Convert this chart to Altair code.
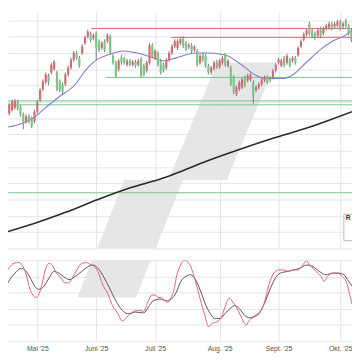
import altair as alt
import pandas as pd

# ---- price candles (trading-day index d, d=0 is 2 May 2025) ----
days = list(range(-13, 113))
opens = [137,135,132,138,142,144,150,145,137,130,135,133,130,
         140,152,163,170,177,180,184,180,171,168,168,178,185,193,200,195,200,210,217,220,215,
         220,212,205,212,212,217,197,190,183,196,194,188,192,188,191,188,194,187,182,190,208,
         195,200,192,188,185,193,200,207,205,210,215,210,206,208,203,202,190,198,197,187,180,
         184,191,186,190,198,187,185,175,158,163,165,175,172,173,170,162,165,168,172,175,174,
         175,182,190,187,195,190,193,192,195,198,207,214,219,230,223,220,218,225,220,225,226,
         230,227,228,232,227,233,228,223]
closes = [129,127,138,147,150,151,143,137,128,135,130,125,140,
          150,162,171,178,170,188,191,163,162,160,178,185,193,200,195,187,207,216,222,213,218,
          205,203,210,203,218,200,190,177,192,190,190,192,188,191,187,192,177,178,190,208,197,
          202,188,180,182,193,200,207,212,212,214,207,204,208,202,206,188,197,193,187,180,185,
          190,186,192,195,188,192,168,160,165,170,173,167,177,178,155,165,168,173,175,170,172,
          182,188,193,192,187,197,187,195,190,205,212,219,223,220,217,215,223,217,225,228,230,
          225,230,232,225,230,228,220,213]
highs = [139,137,140,149,152,153,152,147,139,137,137,135,142,
         152,164,173,180,179,190,193,182,173,170,180,187,195,202,202,197,209,218,224,222,220,
         222,214,212,214,220,219,199,192,194,198,196,194,194,193,193,194,196,189,192,210,210,
         204,202,194,190,195,202,209,214,214,216,217,212,210,210,208,204,199,200,199,189,187,
         192,193,194,197,200,194,187,177,167,172,175,177,179,180,172,167,170,175,177,177,176,
         184,190,195,194,197,199,195,197,197,207,214,221,225,232,225,222,225,227,227,230,232,
         232,232,234,234,232,235,230,225]
lows = [127,125,130,136,140,142,141,135,122,128,128,123,128,
        138,150,161,168,167,178,182,161,160,158,166,176,183,191,193,185,198,208,215,211,213,
        193,201,203,201,210,198,188,175,181,188,188,186,186,186,185,186,175,176,180,188,195,
        193,186,178,180,183,191,198,205,203,208,205,202,204,200,201,186,188,191,185,178,178,
        182,184,184,188,186,185,166,158,156,161,163,165,170,171,148,160,163,166,170,168,170,
        173,180,188,185,185,188,185,190,188,196,205,212,217,218,215,213,216,215,218,223,224,
        223,225,226,223,225,226,218,211]

# ---- moving averages (day, level) ----
ma_fast_d = [-13.2,-1.7,4.2,7.7,13.6,17.1,20.6,25.1,31,35.5,41.5,44.9,49.5,56.4,61,66.9,
             72.8,77.4,81.9,87.8,91.3,95.8,100.7,105.2,109.8,112.2]
ma_fast_v = [123,133,147,155,168,182,192,198,202,200,195,192,195,200,200,198,
             188,178,174,174,178,190,203,212,218,223]
ma_slow_d = [-13.2,-1.7,10.1,21.6,33.1,44.9,49.5,61,72.8,84.3,95.8,102.8,112.2]
ma_slow_v = [15,25,37,50,62,72,77,90,102,113,123,130,140]

# ---- horizontal support / resistance lines ----
lvl_value = [225, 216, 175, 151, 147, 57]
lvl_start = [19.2, 47.7, 24.4, -13, -13, -13]
lvl_kind = ["res", "res", "sup", "sup", "sup", "sup"]

# ---- stochastic oscillator ----
k_d = [-13.2,-12.1,-10.9,-9.2,-7.4,-6.3,-5.1,-3.9,-2.8,-1.6,-0.5,0.7,1.9,3.0,4.2,5.3,6.5,8.2,
       10.0,11.2,12.3,14.1,15.8,17.5,19.3,20.4,21.6,23.3,25.1,26.8,28.6,30.3,31.5,32.6,34.4,
       36.1,37.9,39.6,40.8,42.0,43.1,44.3,45.4,46.6,47.7,48.9,49.5,50.6,52.4,54.1,55.9,57.6,
       59.4,61.1,62.3,64.0,65.7,66.9,68.4,69.8,71.0,72.7,74.5,75.6,77.4,79.1,80.8,82.6,84.3,
       86.1,87.8,89.6,91.3,93.0,94.2,96.0,97.1,98.3,100.0,101.2,102.3,103.5,105.2,107.0,108.7,
       110.5,111.6,112.2]
k_v = [74,77,86,94,97,97,92,82,66,57,54,59,74,90,96,94,86,79,72,72,77,88,96,97,94,92,86,70,
       59,44,35,25,28,32,37,38,37,50,57,57,54,54,50,48,54,66,78,90,100,96,80,58,36,18,22,24,
       30,42,53,48,42,30,20,26,30,34,46,70,84,88,88,86,88,88,92,99,94,90,84,80,74,80,84,84,
       80,70,54,46]
dd_d = [-13.2,-11.5,-9.8,-7.4,-5.7,-3.9,-2.2,-0.5,0.7,2.4,4.2,5.9,7.7,10.0,11.7,13.5,15.8,
        18.1,19.9,21.6,23.9,25.7,28.0,30.3,32.6,35.0,37.9,39.6,41.3,43.7,46.0,47.7,49.5,51.2,
        53.0,54.7,56.4,58.2,59.9,61.7,63.4,65.2,66.9,68.6,70.4,72.1,73.9,75.6,77.9,79.7,81.4,
        83.2,84.9,86.6,89.0,91.3,93.6,96.0,98.3,100.6,102.9,105.2,107.5,109.3,111.0,112.2]
dd_v = [60,66,76,86,90,86,76,66,64,68,78,86,84,78,76,80,86,92,94,90,78,66,50,38,34,36,35,
        42,50,52,50,52,60,74,80,82,76,62,46,34,28,28,34,40,44,40,32,29,32,38,50,66,78,84,86,
        88,90,94,92,86,82,84,84,82,74,68]

# ---- month axis ----
month_days = [0, 21, 42, 65, 86, 108]
month_labels = ["Mai '25", "Juni '25", "Juli '25", "Aug. '25", "Sept. '25", "Okt. '25"]

# ---- watermark logo outline (level, left day, right day) ----
wm_main_p = [190, 70.01, 70, 0]
wm_main_l = [64.1, 46.7, 31.0, 21.3]
wm_main_r = [85.0, 67.6, 51.9, 42.2]
wm_sto_s = [100, 54]
wm_sto_l = [19.5, 14.3]
wm_sto_r = [40.4, 35.2]

X_DOM = [-10.45, 112.2]
P_DOM = [0, 242]
grid_p = [k * 50 / 3 for k in range(0, 15)]

GREEN = "#2fae4e"
RED = "#e3262f"

candles = pd.DataFrame({"d": days, "o": opens, "c": closes, "h": highs, "l": lows})
candles["up"] = candles["c"] >= candles["o"]

label_expr = " : ".join(
    f'datum.value == {d} ? "{lab}"' for d, lab in zip(month_days, month_labels)
) + ' : ""'

x_axis_main = alt.Axis(values=month_days, grid=True, labels=False, ticks=False,
                       domain=False, title=None)
x_axis_sto = alt.Axis(values=month_days, grid=True, labels=True, ticks=False,
                      domain=False, title=None, labelExpr=label_expr, labelPadding=3,
                      labelFontSize=7, labelColor="#555", labelFont="Liberation Sans")
y_axis_main = alt.Axis(values=grid_p, grid=True, labels=False, ticks=False,
                       domain=False, title=None)
y_axis_sto = alt.Axis(values=[0, 20, 40, 60, 80, 100], grid=True, labels=False, ticks=False,
                      domain=False, title=None)
xs = alt.Scale(domain=X_DOM, nice=False, zero=False)
ps = alt.Scale(domain=P_DOM, nice=False, zero=False)
ss = alt.Scale(domain=[0, 100], nice=False, zero=False)


def X(f, axis):
    return alt.X(f, type="quantitative", scale=xs, axis=axis)


def PY(f):
    return alt.Y(f, type="quantitative", scale=ps, axis=y_axis_main)


WM_COLOR = "#e2e2e2"

wm_main = pd.DataFrame({"p": wm_main_p, "l": wm_main_l, "r": wm_main_r})
wm_layer = alt.Chart(wm_main).mark_area(orient="horizontal", color=WM_COLOR,
                                         opacity=0.85, clip=True).encode(
    y=PY("p"), x=X("l", x_axis_main), x2="r")

lv = pd.DataFrame({"v": lvl_value, "s": lvl_start, "kind": lvl_kind, "e": [113] * 6})
lv_layer = alt.Chart(lv).mark_rule(strokeWidth=1, clip=True).encode(
    y=PY("v"), x=X("s", x_axis_main), x2="e",
    color=alt.Color("kind:N", scale=alt.Scale(domain=["res", "sup"],
                                               range=["#d46a72", "#7cc489"]), legend=None))

maf = pd.DataFrame({"d": ma_fast_d, "v": ma_fast_v})
maf_layer = alt.Chart(maf).mark_line(color="#8080cc", strokeWidth=1.1, clip=True,
                                      interpolate="monotone").encode(
    x=X("d", x_axis_main), y=PY("v"))
mas = pd.DataFrame({"d": ma_slow_d, "v": ma_slow_v})
mas_layer = alt.Chart(mas).mark_line(color="#2a2a2a", strokeWidth=1.6, clip=True,
                                      interpolate="monotone").encode(
    x=X("d", x_axis_main), y=PY("v"))

wick_layer = alt.Chart(candles).mark_rule(color="#7a7a7a", strokeWidth=1, clip=True).encode(
    x=X("d", x_axis_main), y=PY("l"), y2="h")
body_layer = alt.Chart(candles).mark_rule(strokeWidth=2.2, clip=True).encode(
    x=X("d", x_axis_main), y=PY("o"), y2="c",
    color=alt.Color("up:N", scale=alt.Scale(domain=[True, False], range=[GREEN, RED]),
                    legend=None))

leg = pd.DataFrame({"x": [109.3], "x2": [116], "y": [35], "y2": [8], "t": ["R"]})
leg_box = alt.Chart(leg).mark_rect(fill="white", stroke="#bbbbbb", strokeWidth=1,
                                   clip=True).encode(
    x=X("x", x_axis_main), x2="x2", y=PY("y"), y2="y2")
leg_txt = alt.Chart(leg).mark_text(fontSize=7, fontWeight="bold", color="#333", align="left",
                                   dx=2, dy=4, font="Liberation Sans", clip=True).encode(
    x=X("x", x_axis_main), y=PY("y"), text="t:N")

main = alt.layer(wm_layer, lv_layer, mas_layer, maf_layer, wick_layer, body_layer,
                 leg_box, leg_txt).properties(width=352, height=242)

wm_s = pd.DataFrame({"s": wm_sto_s, "l": wm_sto_l, "r": wm_sto_r})


def SY(f):
    return alt.Y(f, type="quantitative", scale=ss, axis=y_axis_sto)


wm_s_layer = alt.Chart(wm_s).mark_area(orient="horizontal", color=WM_COLOR, opacity=0.85,
                                        clip=True).encode(
    y=SY("s"), x=X("l", x_axis_sto), x2="r")
kdf = pd.DataFrame({"d": k_d, "v": k_v})
ddf = pd.DataFrame({"d": dd_d, "v": dd_v})
k_layer = alt.Chart(kdf).mark_line(color="#e0607e", strokeWidth=1, clip=True,
                                    interpolate="monotone").encode(
    x=X("d", x_axis_sto), y=SY("v"))
d_layer = alt.Chart(ddf).mark_line(color="#555555", strokeWidth=1, clip=True,
                                    interpolate="monotone").encode(
    x=X("d", x_axis_sto), y=SY("v"))
sto = alt.layer(wm_s_layer, d_layer, k_layer).properties(width=352, height=83)

chart = alt.vconcat(main, sto, spacing=12).properties(padding=0).configure_view(
    stroke=None).configure_axis(gridColor="#e4e4e4", gridWidth=1)

chart.save("out.html", embed_options={"renderer": "svg", "actions": False})
